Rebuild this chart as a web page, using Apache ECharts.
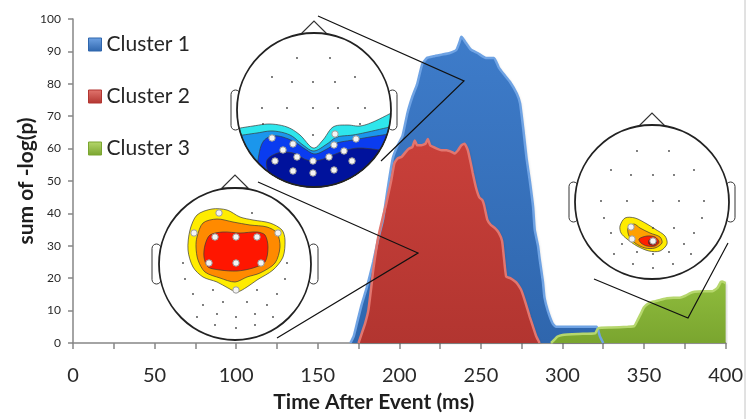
<!DOCTYPE html>
<html>
<head>
<meta charset="utf-8">
<script src="https://cdn.jsdelivr.net/npm/echarts@6/dist/echarts.min.js"></script>
<style>
  html, body { margin: 0; padding: 0; background: #fff; }
  #chart { width: 746px; height: 419px; }
</style>
</head>
<body>
<div id="chart"></div>
<script>
// ---- data: [time after event (ms), sum of -log(p)] ----
const seriesNames = ['Cluster 1', 'Cluster 2', 'Cluster 3'];

const cluster1 = [
  [170,0],[172,2],[174,6],[177,12],[180,17],[184,25],[187,32],[190,38],[193,48],[196,57],
  [199,61],[202,64],[205,71],[208,76],[211,80],[214,86],[217,88],[221,88.5],[226,89],[231,89.5],
  [235,90.5],[237,93],[238,94.5],[239,94],[241,92.5],[244,90.5],[248,89.5],[253,88],[258,88],[261,85],
  [264,83],[268,80.5],[272,77],[274,74],[276,66],[278,57],[280,50],[282,42],[283,35],[285,30],
  [286,26],[288,19],[289,14],[291,10],[294,6],[296,5],[302,5],[310,5],[316,5],[321,5],
  [323,2],[325,0]
];

const cluster2 = [
  [175,0],[177,3],[179,6],[181,10],[183,18],[184,22.5],[187,32.5],[190,39],[192,43],[195,50],
  [197,55.5],[199,57],[201.5,57.5],[204,59],[206,60],[208,60.5],[209.5,62.5],[211,61],[213.5,61],[216,61.5],
  [217.5,63],[219,61],[223,60],[226,59.5],[229,59.5],[232,59],[234,58.5],[236,59.5],[238,61],[240,61.5],
  [242,59.5],[244,55],[245,52.5],[247,48],[249,45],[251,44],[252,42.5],[254,38],[256,36.5],[258.5,35.5],
  [261,34],[263,31.5],[264,27],[265.5,20.5],[268,20],[271,19],[272,18.5],[274,17],[275,16],[277,13],
  [280,8],[282,5],[284,2],[286,0]
];

const cluster3 = [
  [293,0],[295,1],[297,2],[300,2.5],[310,2.8],[320,3],[322,4.6],[330,4.8],[340,5],[344,5.2],
  [346,7],[348,9],[350,11],[353,12.3],[356,12.8],[360,13.3],[364,13.8],[368,14],[372,14],[375,14.5],
  [378,15.3],[381,15.8],[386,16],[392,16],[395,17],[397,18.8],[398,19],[400,18.5]
];

const xRange = [0, 400];
const yRange = [0, 100];

// ---- palette ----
const palette = [
  { base: '#3e7cca', light: '#6fa3e4', dark: '#2f66ad' },
  { base: '#c9403a', light: '#e2766f', dark: '#b23530' },
  { base: '#8fbc3d', light: '#b6d76d', dark: '#7aa52f' }
];

// ---- scalp maps (offsets from head centre, px) ----
const nose = [[-13, -76], [0, -89], [13, -76]];

const heads = [
  {
    cx: 314, cy: 110, r: 77,
    contours: [
      { color: '#2ee6ec', clip: true, pts: [[-74,18],[-61,16],[-44,14],[-27,17],[-14,25],[-1,38],[9,30],[19,17],[33,15],[46,16],[59,12],[73,3]] },
      { color: '#1b96ec', clip: true, pts: [[-72,25],[-57,23],[-41,21],[-24,25],[-11,35],[0,41],[13,34],[23,27],[39,25],[54,22],[70,16]] },
      { color: '#0a3cf0', clip: true, pts: [[-56,52],[-53,36],[-47,28],[-36,26],[-21,31],[-9,39],[1,44],[13,39],[23,33],[39,30],[56,27],[72,24]] },
      { color: '#00129c', clip: true, pts: [[-46,61],[-47,50],[-36,43],[-21,43],[-7,50],[6,50],[19,45],[33,40],[46,38],[66,40]] }
    ],
    black: [[-17,-52],[16,-52],[-42,-33],[-22,-28],[-1,-28],[21,-28],[41,-33],[-52,-2],[-27,-2],[-1,-2],[24,-2],[51,-2],[-51,14],[-1,25],[46,14]],
    white: [[-42,28],[-21,34],[21,24],[42,29],[-31,40],[20,35],[30,41],[-17,47],[-1,51],[15,47],[-39,51],[38,51],[-21,61],[-1,63],[20,60]]
  },
  {
    cx: 235, cy: 264, r: 76,
    contours: [
      { color: '#ffec00', pts: [[-45,-34],[-38,-49],[-23,-55],[-8,-54],[5,-47],[18,-44],[35,-41],[47,-34],[50,-24],[48,-7],[38,6],[22,16],[12,23],[2,28],[-7,24],[-18,18],[-32,13],[-42,3],[-47,-14]] },
      { color: '#ff8a00', pts: [[-38,-27],[-32,-41],[-18,-45],[-2,-42],[15,-39],[32,-37],[42,-31],[45,-17],[40,-1],[25,9],[12,13],[0,18],[-15,14],[-30,8],[-37,-4],[-39,-17]] },
      { color: '#ff1600', pts: [[-30,-19],[-25,-29],[-12,-32],[5,-31],[22,-32],[30,-29],[33,-17],[30,-2],[18,4],[2,7],[-15,6],[-27,3],[-31,-7]] }
    ],
    black: [[17,-51],[-52,-1],[52,-1],[-50,15],[50,15],[-42,30],[-22,26],[22,26],[42,30],[-32,41],[-12,38],[12,38],[32,41],[-38,53],[-18,50],[1,53],[20,50],[38,53],[-20,61],[1,64],[20,61]],
    white: [[-16,-51],[-41,-31],[43,-31],[-20,-27],[1,-27],[22,-27],[-26,-1],[1,-1],[26,-1],[1,26]]
  },
  {
    cx: 652, cy: 202, r: 77,
    contours: [
      { color: '#ffec00', pts: [[-32,24],[-27,16],[-17,16],[-5,22],[3,27],[13,34],[15,42],[8,49],[-3,49],[-15,44],[-25,37],[-31,31]] },
      { color: '#ffa000', pts: [[-24,26],[-18,22],[-12,26],[-2,31],[8,35],[10,41],[3,46],[-7,46],[-17,41],[-23,34]] },
      { color: '#ff2000', pts: [[-13,37],[-5,34],[3,35],[7,40],[3,44],[-5,44],[-11,41]] },
      { color: '#b00000', pts: [[-3,38],[2,37],[5,40],[2,43],[-3,42]] }
    ],
    black: [[-15,-51],[17,-51],[-41,-32],[-21,-27],[1,-27],[22,-27],[42,-32],[-51,-1],[-25,-1],[1,-1],[27,-1],[52,-1],[-48,16],[50,16],[-41,31],[1,26],[22,26],[42,31],[-30,42],[32,42],[-38,52],[-15,50],[1,52],[17,50],[39,52],[-19,62],[1,66],[21,62]],
    white: [[-21,25],[-20,37],[1,39]]
  }
];

const pointerLines = [
  [[318,16],[464,81],[381,161]],
  [[258,182],[418,253],[277,338]],
  [[594,279],[688,318],[728,243]]
];

// ---- helpers ----
// Catmull-Rom densification of an open outline
function spline(pts, n) {
  const out = [];
  for (let i = 0; i < pts.length - 1; i++) {
    const p0 = pts[i - 1] || pts[i], p1 = pts[i], p2 = pts[i + 1], p3 = pts[i + 2] || pts[i + 1];
    for (let k = 0; k < n; k++) {
      const t = k / n, t2 = t * t, t3 = t2 * t;
      const f = (a, b, c, d) => 0.5 * (2 * b + (-a + c) * t + (2 * a - 5 * b + 4 * c - d) * t2 + (-a + 3 * b - 3 * c + d) * t3);
      out.push([f(p0[0], p1[0], p2[0], p3[0]), f(p0[1], p1[1], p2[1], p3[1])]);
    }
  }
  out.push(pts[pts.length - 1]);
  return out;
}

// Upper outline of a band, closed along the lower rim of the scalp circle
function clipToScalp(pts, r) {
  const src = pts.map(p => p.slice());
  const proj = p => { const d = Math.hypot(p[0], p[1]); return [p[0] * r / d, p[1] * r / d]; };
  src[0] = proj(src[0]);
  src[src.length - 1] = proj(src[src.length - 1]);
  const out = spline(src, 6);
  const last = out[out.length - 1];
  const a1 = Math.atan2(last[1], last[0]);
  let a0 = Math.atan2(out[0][1], out[0][0]);
  if (a0 < a1) a0 += Math.PI * 2;
  const steps = 30;
  for (let i = 1; i < steps; i++) {
    const a = a1 + (a0 - a1) * i / steps;
    out.push([r * Math.cos(a), r * Math.sin(a)]);
  }
  return out;
}

function headGraphics(h) {
  const els = [];
  const tr = p => [h.cx + p[0], h.cy + p[1]];
  [-83, 74].forEach(x => els.push({
    type: 'rect', z: 100, silent: true,
    shape: { x: h.cx + x, y: h.cy - 20, width: 9, height: 40, r: 4.5 },
    style: { fill: '#fff', stroke: '#333', lineWidth: 1 }
  }));
  els.push({ type: 'polygon', z: 100, silent: true, shape: { points: nose.map(tr) },
    style: { fill: '#fff', stroke: '#333', lineWidth: 1.2 } });
  els.push({ type: 'circle', z: 101, silent: true, shape: { cx: h.cx, cy: h.cy, r: h.r },
    style: { fill: '#fff' } });
  h.contours.forEach(c => {
    const clipped = !!c.clip;
    const pts = clipped ? clipToScalp(c.pts, h.r) : c.pts;
    els.push({ type: 'polygon', z: 102, silent: true,
      shape: { points: pts.map(tr), smooth: clipped ? 0 : 0.3 },
      style: { fill: c.color, stroke: '#3a3a3a', lineWidth: 0.7 } });
  });
  h.black.forEach(p => els.push({ type: 'circle', z: 103, silent: true,
    shape: { cx: h.cx + p[0], cy: h.cy + p[1], r: 0.9 }, style: { fill: '#444' } }));
  h.white.forEach(p => els.push({ type: 'circle', z: 103, silent: true,
    shape: { cx: h.cx + p[0], cy: h.cy + p[1], r: 3.2 },
    style: { fill: '#f4f4f4', stroke: '#9a9a9a', lineWidth: 1 } }));
  els.push({ type: 'circle', z: 104, silent: true, shape: { cx: h.cx, cy: h.cy, r: h.r },
    style: { fill: null, stroke: '#222', lineWidth: 1.8 } });
  return els;
}

function areaSeries(name, data, c) {
  return {
    name, type: 'line', data, symbol: 'none', smooth: 0.15,
    color: c.base,
    lineStyle: { color: c.light, width: 2.5 },
    areaStyle: {
      opacity: 1,
      color: new echarts.graphic.LinearGradient(0, 0, 0, 1, [
        { offset: 0, color: c.base }, { offset: 1, color: c.dark }
      ]),
      shadowColor: 'rgba(0,0,0,0.2)', shadowBlur: 3, shadowOffsetX: 1, shadowOffsetY: 1
    },
    emphasis: { disabled: true }, silent: true
  };
}

const axisGrey = '#868686';
const font = 'Lato';

const graphics = [];
heads.forEach(h => graphics.push(...headGraphics(h)));
pointerLines.forEach(pl => graphics.push({ type: 'polyline', z: 105, silent: true,
  shape: { points: pl }, style: { stroke: '#111', lineWidth: 1.2, fill: null } }));
graphics.push({ type: 'line', z: 105, silent: true, shape: { x1: 745, y1: 0, x2: 745, y2: 419 },
  style: { stroke: '#c4c4c4', lineWidth: 1 } });

const chart = echarts.init(document.getElementById('chart'), null, { renderer: 'canvas' });
chart.setOption({
  animation: false,
  backgroundColor: '#fff',
  grid: { left: 73, right: 20, top: 19, bottom: 76, containLabel: false },
  legend: {
    orient: 'vertical', left: 88, top: 34, itemGap: 31, padding: 0,
    itemWidth: 13, itemHeight: 13, icon: 'rect', selectedMode: false,
    textStyle: { fontFamily: font, fontSize: 21, color: '#262626' },
    data: seriesNames.map((n, i) => ({
      name: n,
      itemStyle: {
        color: new echarts.graphic.LinearGradient(0, 0, 0, 1, [
          { offset: 0, color: palette[i].light }, { offset: 1, color: palette[i].dark }
        ]),
        borderColor: palette[i].dark, borderWidth: 1
      }
    }))
  },
  xAxis: {
    type: 'value', min: xRange[0], max: xRange[1], interval: 50,
    name: 'Time After Event (ms)', nameLocation: 'middle', nameGap: 49, nameMoveOverlap: false,
    nameTextStyle: { fontFamily: font, fontWeight: 'bold', fontSize: 21, color: '#1e1e1e', padding: [0, 51, 0, 0] },
    axisLine: { show: true, lineStyle: { color: axisGrey, width: 1.5 } },
    axisTick: { show: true, length: 6, lineStyle: { color: axisGrey, width: 1.5 } },
    minorTick: { show: true, splitNumber: 2, length: 6, lineStyle: { color: axisGrey, width: 1.5 } },
    splitLine: { show: false },
    axisLabel: { fontFamily: font, fontSize: 20, color: '#2a2a2a', margin: 23 }
  },
  yAxis: {
    type: 'value', min: yRange[0], max: yRange[1], interval: 10,
    name: 'sum of -log(p)', nameLocation: 'middle', nameGap: 36, nameMoveOverlap: false,
    nameTextStyle: { fontFamily: font, fontWeight: 'bold', fontSize: 21, color: '#1e1e1e' },
    axisLine: { show: true, lineStyle: { color: axisGrey, width: 1.5 } },
    axisTick: { show: true, length: 5, lineStyle: { color: axisGrey, width: 1.5 } },
    splitLine: { show: false },
    axisLabel: { fontFamily: font, fontSize: 12, color: '#2a2a2a', margin: 12 }
  },
  series: [
    areaSeries(seriesNames[0], cluster1, palette[0]),
    areaSeries(seriesNames[1], cluster2, palette[1]),
    areaSeries(seriesNames[2], cluster3, palette[2])
  ],
  graphic: { elements: graphics }
});
</script>
</body>
</html>
